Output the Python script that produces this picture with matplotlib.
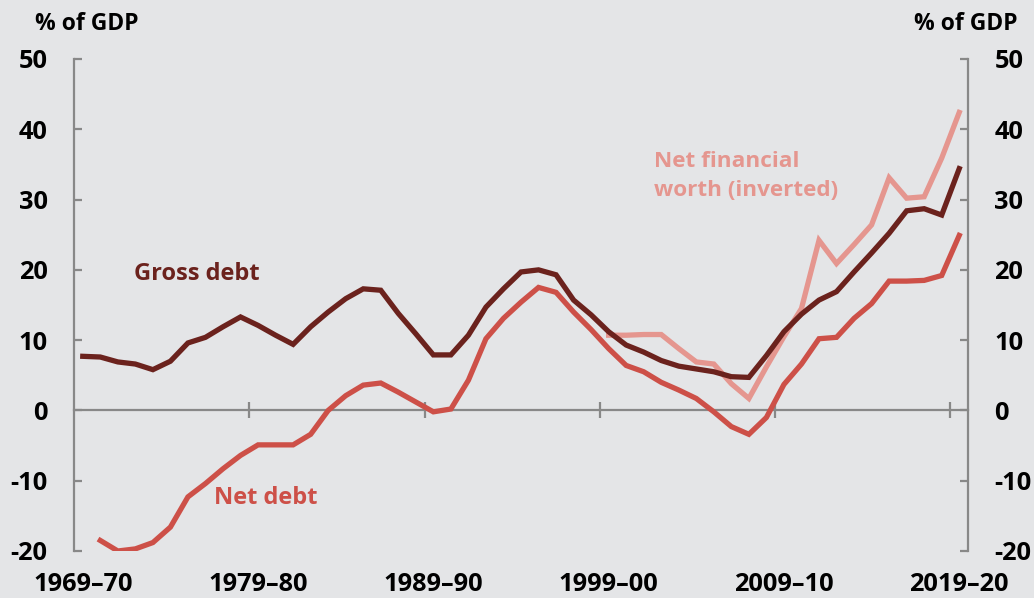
import matplotlib.pyplot as plt
import numpy as np

plt.rcParams['font.family'] = ['Open Sans', 'DejaVu Sans']
plt.rcParams['font.weight'] = 'bold'

# financial years 1969-70 .. 2019-20
years = [f"{y}–{str(y + 1)[-2:]}" for y in range(1969, 2020)]

gross_debt = [7.7, 7.6, 6.9, 6.6, 5.8, 7.0, 9.6, 10.4, 11.9, 13.3,
              12.1, 10.7, 9.4, 11.9, 14.0, 15.9, 17.3, 17.1, 13.8, 10.9,
              7.9, 7.9, 10.7, 14.7, 17.3, 19.7, 20.0, 19.3, 15.7, 13.6,
              11.2, 9.3, 8.3, 7.1, 6.3, 5.9, 5.5, 4.8, 4.7, 7.8,
              11.2, 13.7, 15.7, 16.9, 19.7, 22.4, 25.2, 28.4, 28.7, 27.8,
              34.4]

# net debt starts 1970-71
net_debt = [None, -18.5, -20.0, -19.7, -18.8, -16.6, -12.3, -10.4, -8.3, -6.4,
            -4.9, -4.9, -4.9, -3.4, 0.0, 2.1, 3.6, 3.9, 2.6, 1.2,
            -0.2, 0.2, 4.3, 10.2, 13.1, 15.4, 17.5, 16.8, 14.0, 11.5,
            8.8, 6.4, 5.5, 4.0, 2.9, 1.7, -0.2, -2.3, -3.4, -1.0,
            3.7, 6.6, 10.2, 10.4, 13.1, 15.2, 18.4, 18.4, 18.5, 19.2,
            24.9]

# net financial worth (inverted), from 1999-00
nfw_start = 30
nfw = [10.7, 10.7, 10.8, 10.8, 8.8, 6.9, 6.6, 3.8, 1.7, 6.2,
       10.5, 14.5, 24.2, 20.9, 23.6, 26.4, 33.1, 30.2, 30.4, 35.9,
       42.4]

bg = '#E4E5E7'
c_gross = '#6B221D'
c_net = '#CD5048'
c_nfw = '#E5968F'
grey = '#888888'

fig = plt.figure(figsize=(10.34, 5.98), dpi=100, facecolor=bg)
ax = fig.add_axes([74 / 1034, 47 / 598, 894 / 1034, 492 / 598], facecolor=bg)

x = np.arange(len(years))
nd = np.array([np.nan if v is None else v for v in net_debt])
ax.plot(x, gross_debt, color=c_gross, lw=3.8, solid_joinstyle='miter', zorder=3)
ax.plot(x, nd, color=c_net, lw=3.8, solid_joinstyle='miter', zorder=3)
ax.plot(x[nfw_start:], nfw, color=c_nfw, lw=3.8, solid_joinstyle='miter', zorder=2)

ax.set_xlim(-0.5, len(years) - 0.5)
ax.set_ylim(-20, 50)

# spines
ax.spines['top'].set_visible(False)
ax.spines['bottom'].set_position(('data', 0))
for s in ['left', 'right', 'bottom']:
    ax.spines[s].set_color(grey)
    ax.spines[s].set_linewidth(1.6)

# x ticks on category boundaries, labels at category centres
ax.set_xticks(np.arange(9.5, len(years), 10))
ax.set_xticklabels([])
ax.tick_params(axis='x', direction='inout', length=12, width=1.6, color=grey)
for i in range(0, len(years), 10):
    ax.text(i, -0.043, years[i], transform=ax.get_xaxis_transform(),
            ha='center', va='top', fontsize=18.3, fontweight='bold')

# y ticks on both sides
yt = np.arange(-20, 51, 10)
ax.set_yticks(yt)
ax.set_yticklabels([str(v) for v in yt])
ax.tick_params(axis='y', direction='in', length=6, width=1.6, color=grey,
               labelsize=18.3, pad=19, left=True, right=True,
               labelleft=True, labelright=True)

fig.text(35 / 1034, 1 - 24 / 598, '% of GDP', ha='left', va='center',
         fontsize=16.5, fontweight='bold')
fig.text(1018 / 1034, 1 - 24 / 598, '% of GDP', ha='right', va='center',
         fontsize=16.5, fontweight='bold')

ax.text(6.5, 19.4, 'Gross debt', color=c_gross, ha='center', va='center',
        fontsize=17, fontweight='bold')
ax.text(10.45, -12.5, 'Net debt', color=c_net, ha='center', va='center',
        fontsize=17, fontweight='bold')
ax.text(32.6, 33.4, 'Net financial\nworth (inverted)', color=c_nfw,
        ha='left', va='center', fontsize=16.2, fontweight='bold',
        linespacing=1.5)

fig.savefig('out.png', dpi=100, facecolor=bg)
